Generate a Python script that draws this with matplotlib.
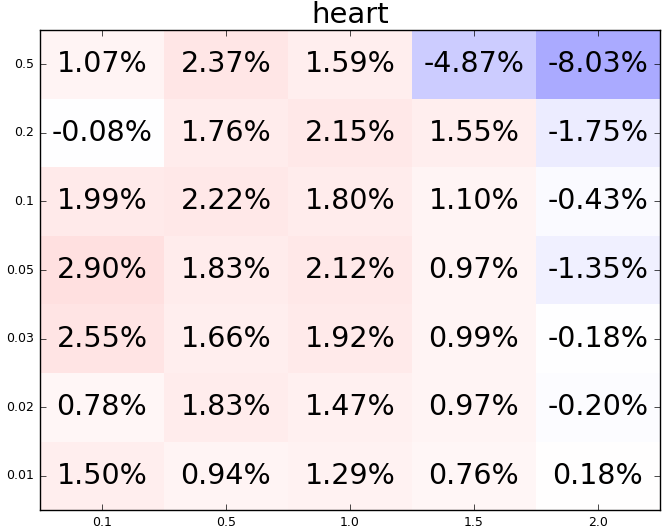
import numpy as np
import matplotlib
matplotlib.use('Agg')
import matplotlib.pyplot as plt

plt.style.use('classic')

x_labels = ['0.1', '0.5', '1.0', '1.5', '2.0']
y_labels = ['0.01', '0.02', '0.03', '0.05', '0.1', '0.2', '0.5']

# rows bottom -> top (0.01 ... 0.5)
values = np.array([
    [1.50, 0.94, 1.29, 0.76, 0.18],
    [0.78, 1.83, 1.47, 0.97, -0.20],
    [2.55, 1.66, 1.92, 0.99, -0.18],
    [2.90, 1.83, 2.12, 0.97, -1.35],
    [1.99, 2.22, 1.80, 1.10, -0.43],
    [-0.08, 1.76, 2.15, 1.55, -1.75],
    [1.07, 2.37, 1.59, -4.87, -8.03],
])

fig = plt.figure(figsize=(6.62, 5.30), dpi=100)
fig.patch.set_facecolor('white')
ax = fig.add_axes([40/662., 20/530., 620/662., 480/530.])

ax.imshow(values, cmap='bwr', vmin=-24, vmax=24, origin='lower',
          aspect='auto', interpolation='nearest')

for i in range(values.shape[0]):
    for j in range(values.shape[1]):
        ax.text(j, i, '%.2f%%' % values[i, j], ha='center', va='center',
                fontsize=20.5, color='black')

ax.set_xticks(range(len(x_labels)))
ax.set_xticklabels(x_labels, fontsize=9)
ax.set_yticks(range(len(y_labels)))
ax.set_yticklabels(y_labels, fontsize=9)
ax.set_xlim(-0.5, 4.5)
ax.set_ylim(-0.5, 6.5)
ax.set_title('heart', fontsize=21)

fig.savefig('out.png', dpi=100, facecolor='white')
